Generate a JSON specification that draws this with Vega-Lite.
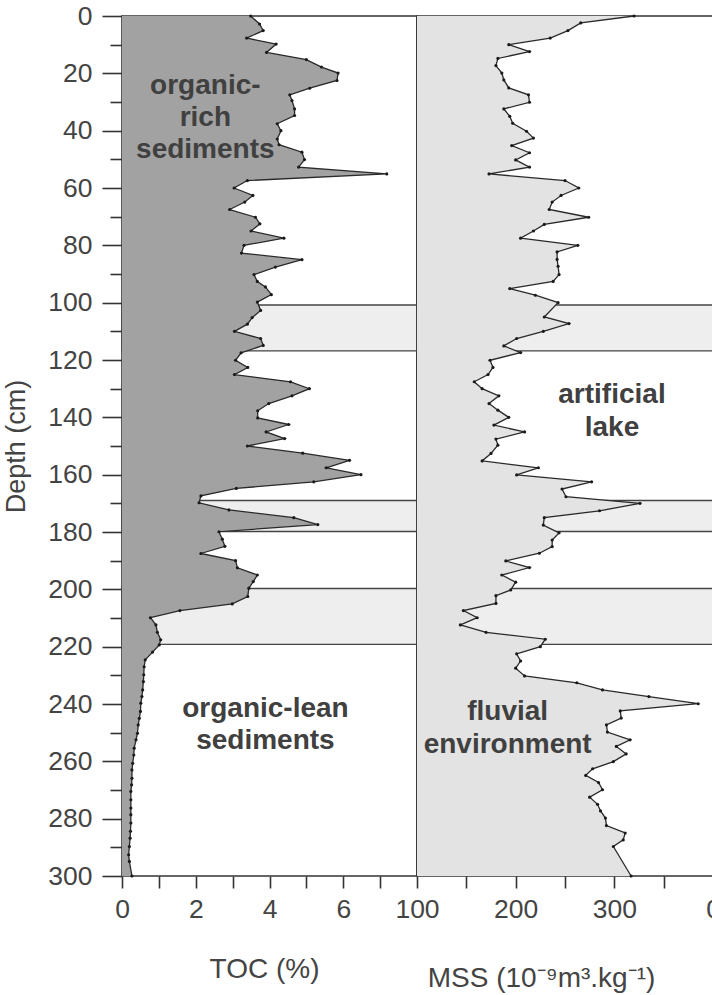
{
  "$schema": "https://vega.github.io/schema/vega-lite/v6.json",
  "padding": {"left": 1, "top": 2, "right": 0, "bottom": 0},
  "background": "white",
  "spacing": 0,
  "bounds": "flush",
  "config": {
    "font": "Liberation Sans",
    "view": {"stroke": "#333333", "strokeWidth": 1.6},
    "axis": {
      "domain": false,
      "grid": false,
      "tickColor": "#333333",
      "tickWidth": 1.6,
      "labelFont": "Liberation Sans",
      "labelFontSize": 26.5,
      "labelColor": "#444444",
      "labelFlush": false,
      "labelOverlap": false,
      "titleFont": "Liberation Sans",
      "titleFontWeight": "normal",
      "titleColor": "#444444",
      "titleFontSize": 28
    }
  },
  "datasets": {
    "toc": [
      {"depth": 0, "toc": 3.49}, {"depth": 2.8, "toc": 3.73}, {"depth": 5.1, "toc": 3.83}, {"depth": 7.7, "toc": 3.38},
      {"depth": 9.8, "toc": 4.18}, {"depth": 12.7, "toc": 3.92}, {"depth": 15.2, "toc": 5.0}, {"depth": 17.8, "toc": 5.41},
      {"depth": 19.9, "toc": 5.86}, {"depth": 22.5, "toc": 5.83}, {"depth": 25.2, "toc": 5.09}, {"depth": 27.5, "toc": 4.55},
      {"depth": 29.5, "toc": 4.61}, {"depth": 32.4, "toc": 4.68}, {"depth": 34.7, "toc": 4.68}, {"depth": 37.6, "toc": 4.21},
      {"depth": 40.0, "toc": 4.31}, {"depth": 42.9, "toc": 4.21}, {"depth": 44.9, "toc": 4.26}, {"depth": 47.5, "toc": 4.88},
      {"depth": 50.1, "toc": 4.95}, {"depth": 52.7, "toc": 4.79}, {"depth": 55.1, "toc": 7.18}, {"depth": 57.4, "toc": 3.40},
      {"depth": 60.0, "toc": 3.04}, {"depth": 62.6, "toc": 3.55}, {"depth": 64.9, "toc": 3.33}, {"depth": 67.5, "toc": 2.92},
      {"depth": 70.2, "toc": 3.62}, {"depth": 72.5, "toc": 3.74}, {"depth": 75.0, "toc": 3.50}, {"depth": 77.5, "toc": 4.39},
      {"depth": 80.0, "toc": 3.31}, {"depth": 82.7, "toc": 3.24}, {"depth": 85.0, "toc": 4.88}, {"depth": 87.6, "toc": 4.16},
      {"depth": 90.2, "toc": 3.58}, {"depth": 92.6, "toc": 3.67}, {"depth": 94.5, "toc": 3.89}, {"depth": 97.2, "toc": 4.05},
      {"depth": 99.8, "toc": 3.67}, {"depth": 102.7, "toc": 3.76}, {"depth": 105.2, "toc": 3.53}, {"depth": 107.5, "toc": 3.40},
      {"depth": 110.0, "toc": 3.05}, {"depth": 112.5, "toc": 3.76}, {"depth": 114.9, "toc": 3.83}, {"depth": 117.5, "toc": 3.23},
      {"depth": 120.1, "toc": 3.08}, {"depth": 122.6, "toc": 3.41}, {"depth": 125.1, "toc": 3.05}, {"depth": 127.6, "toc": 4.57},
      {"depth": 130.0, "toc": 5.08}, {"depth": 132.5, "toc": 4.61}, {"depth": 135.2, "toc": 3.98}, {"depth": 137.7, "toc": 3.68},
      {"depth": 140.2, "toc": 3.68}, {"depth": 142.5, "toc": 4.52}, {"depth": 145.1, "toc": 3.91}, {"depth": 147.4, "toc": 4.41},
      {"depth": 150.0, "toc": 3.40}, {"depth": 152.5, "toc": 4.90}, {"depth": 155.0, "toc": 6.17}, {"depth": 157.6, "toc": 5.54},
      {"depth": 160.0, "toc": 6.48}, {"depth": 162.5, "toc": 5.20}, {"depth": 164.8, "toc": 3.10}, {"depth": 167.4, "toc": 2.14},
      {"depth": 169.8, "toc": 2.09}, {"depth": 172.3, "toc": 2.90}, {"depth": 175.0, "toc": 4.66}, {"depth": 177.4, "toc": 5.31},
      {"depth": 179.9, "toc": 2.63}, {"depth": 182.5, "toc": 2.72}, {"depth": 185.0, "toc": 2.79}, {"depth": 187.5, "toc": 2.14},
      {"depth": 190.0, "toc": 3.08}, {"depth": 192.5, "toc": 3.13}, {"depth": 195.0, "toc": 3.67}, {"depth": 197.3, "toc": 3.56},
      {"depth": 199.6, "toc": 3.44}, {"depth": 202.5, "toc": 3.41}, {"depth": 205.1, "toc": 2.99}, {"depth": 207.4, "toc": 1.57},
      {"depth": 209.9, "toc": 0.77}, {"depth": 212.4, "toc": 0.92}, {"depth": 215.0, "toc": 0.96}, {"depth": 217.6, "toc": 1.05},
      {"depth": 219.4, "toc": 1.01}, {"depth": 221.9, "toc": 0.83}, {"depth": 224.6, "toc": 0.63}, {"depth": 227.0, "toc": 0.60},
      {"depth": 229.8, "toc": 0.59}, {"depth": 232.2, "toc": 0.58}, {"depth": 235.1, "toc": 0.56}, {"depth": 237.4, "toc": 0.54},
      {"depth": 239.7, "toc": 0.51}, {"depth": 242.6, "toc": 0.50}, {"depth": 245.0, "toc": 0.47}, {"depth": 247.3, "toc": 0.44},
      {"depth": 250.2, "toc": 0.42}, {"depth": 252.5, "toc": 0.38}, {"depth": 255.4, "toc": 0.33}, {"depth": 257.8, "toc": 0.32},
      {"depth": 260.7, "toc": 0.29}, {"depth": 263.0, "toc": 0.27}, {"depth": 265.9, "toc": 0.27}, {"depth": 268.2, "toc": 0.26},
      {"depth": 270.5, "toc": 0.24}, {"depth": 273.4, "toc": 0.24}, {"depth": 276.3, "toc": 0.24}, {"depth": 278.6, "toc": 0.24},
      {"depth": 281.5, "toc": 0.24}, {"depth": 284.4, "toc": 0.23}, {"depth": 286.8, "toc": 0.22}, {"depth": 289.7, "toc": 0.20},
      {"depth": 292.6, "toc": 0.18}, {"depth": 294.9, "toc": 0.20}, {"depth": 300.0, "toc": 0.27}
    ],
    "mss": [
      {"depth": 0, "mss": 320}, {"depth": 2.4, "mss": 266}, {"depth": 5.1, "mss": 253}, {"depth": 7.7, "mss": 235},
      {"depth": 10.0, "mss": 193}, {"depth": 12.4, "mss": 214}, {"depth": 14.8, "mss": 182}, {"depth": 17.3, "mss": 180},
      {"depth": 19.9, "mss": 186}, {"depth": 22.3, "mss": 188}, {"depth": 25.1, "mss": 193}, {"depth": 27.5, "mss": 213},
      {"depth": 30.1, "mss": 214}, {"depth": 32.4, "mss": 188}, {"depth": 35.0, "mss": 194}, {"depth": 37.4, "mss": 197},
      {"depth": 40.2, "mss": 211}, {"depth": 42.6, "mss": 218}, {"depth": 45.2, "mss": 196}, {"depth": 47.7, "mss": 214},
      {"depth": 50.2, "mss": 200}, {"depth": 52.7, "mss": 214}, {"depth": 55.1, "mss": 173}, {"depth": 57.4, "mss": 250},
      {"depth": 60.0, "mss": 264}, {"depth": 62.6, "mss": 246}, {"depth": 64.9, "mss": 237}, {"depth": 67.5, "mss": 234},
      {"depth": 70.2, "mss": 274}, {"depth": 72.7, "mss": 229}, {"depth": 75.0, "mss": 218}, {"depth": 77.5, "mss": 205},
      {"depth": 80.0, "mss": 263}, {"depth": 82.3, "mss": 242}, {"depth": 84.9, "mss": 242}, {"depth": 87.3, "mss": 243},
      {"depth": 90.2, "mss": 244}, {"depth": 92.6, "mss": 238}, {"depth": 95.1, "mss": 194}, {"depth": 97.4, "mss": 220},
      {"depth": 100.0, "mss": 243}, {"depth": 105.0, "mss": 229}, {"depth": 107.3, "mss": 254}, {"depth": 110.0, "mss": 228},
      {"depth": 112.5, "mss": 201}, {"depth": 115.1, "mss": 188}, {"depth": 117.4, "mss": 205}, {"depth": 120.1, "mss": 174},
      {"depth": 122.6, "mss": 177}, {"depth": 125.1, "mss": 172}, {"depth": 127.6, "mss": 158}, {"depth": 130.0, "mss": 166},
      {"depth": 132.5, "mss": 183}, {"depth": 135.2, "mss": 173}, {"depth": 137.5, "mss": 182}, {"depth": 140.0, "mss": 193},
      {"depth": 142.7, "mss": 178}, {"depth": 145.1, "mss": 209}, {"depth": 147.6, "mss": 180}, {"depth": 149.7, "mss": 182},
      {"depth": 152.6, "mss": 175}, {"depth": 155.2, "mss": 166}, {"depth": 157.6, "mss": 223}, {"depth": 160.1, "mss": 201},
      {"depth": 162.5, "mss": 277}, {"depth": 165.0, "mss": 247}, {"depth": 167.7, "mss": 251}, {"depth": 170.0, "mss": 326},
      {"depth": 172.6, "mss": 285}, {"depth": 175.0, "mss": 229}, {"depth": 177.6, "mss": 228}, {"depth": 180.3, "mss": 244},
      {"depth": 182.8, "mss": 237}, {"depth": 185.1, "mss": 237}, {"depth": 187.4, "mss": 224}, {"depth": 190.1, "mss": 190},
      {"depth": 192.4, "mss": 214}, {"depth": 195.0, "mss": 186}, {"depth": 197.5, "mss": 200}, {"depth": 200.2, "mss": 195},
      {"depth": 202.2, "mss": 180}, {"depth": 204.9, "mss": 180}, {"depth": 207.4, "mss": 147}, {"depth": 209.9, "mss": 161},
      {"depth": 212.4, "mss": 144}, {"depth": 215.0, "mss": 170}, {"depth": 217.4, "mss": 230}, {"depth": 220.0, "mss": 225},
      {"depth": 222.5, "mss": 201}, {"depth": 225.0, "mss": 205}, {"depth": 227.5, "mss": 200}, {"depth": 230.2, "mss": 209},
      {"depth": 232.6, "mss": 262}, {"depth": 235.1, "mss": 288}, {"depth": 237.4, "mss": 335}, {"depth": 239.9, "mss": 385},
      {"depth": 242.4, "mss": 306}, {"depth": 244.9, "mss": 307}, {"depth": 247.3, "mss": 292}, {"depth": 249.8, "mss": 293},
      {"depth": 252.5, "mss": 316}, {"depth": 254.8, "mss": 302}, {"depth": 257.4, "mss": 312}, {"depth": 260.1, "mss": 299},
      {"depth": 262.6, "mss": 278}, {"depth": 264.9, "mss": 271}, {"depth": 267.4, "mss": 284}, {"depth": 269.9, "mss": 288},
      {"depth": 272.5, "mss": 275}, {"depth": 275.0, "mss": 283}, {"depth": 277.3, "mss": 286}, {"depth": 279.8, "mss": 291},
      {"depth": 282.4, "mss": 292}, {"depth": 285.0, "mss": 311}, {"depth": 287.4, "mss": 309}, {"depth": 289.7, "mss": 299},
      {"depth": 300.0, "mss": 317}
    ],
    "bands": [
      {"top": 100.8, "bottom": 116.8},
      {"top": 169.0, "bottom": 179.8},
      {"top": 199.7, "bottom": 219.2}
    ],
    "notes_toc": [
      {"depth": 24.5, "toc": 2.26, "label": "organic-\nrich\nsediments"},
      {"depth": 241.8, "toc": 3.89, "label": "organic-lean\nsediments"}
    ],
    "notes_mss": [
      {"depth": 132.3, "mss": 297.6, "label": "artificial\nlake"},
      {"depth": 242.9, "mss": 191.9, "label": "fluvial\nenvironment"}
    ]
  },
  "hconcat": [
    {
      "width": 295,
      "height": 860,
      "resolve": {"axis": {"y": "independent", "x": "independent"}},
      "layer": [
        {
          "data": {"name": "bands"},
          "mark": {"type": "rect", "fill": "#eeeeee", "stroke": "#444444", "strokeWidth": 1.4},
          "encoding": {
            "y": {"field": "top", "type": "quantitative", "scale": {"domain": [0, 300], "reverse": true, "nice": false, "zero": false}, "axis": null},
            "y2": {"field": "bottom"},
            "x": {"datum": 0, "type": "quantitative", "scale": {"domain": [0, 8], "nice": false}, "axis": null},
            "x2": {"datum": 8}
          }
        },
        {
          "data": {"name": "toc"},
          "mark": {"type": "area", "orient": "horizontal", "color": "#a2a2a2"},
          "encoding": {
            "y": {
              "field": "depth", "type": "quantitative",
              "axis": {
                "orient": "left",
                "title": null,
                "labels": false,
                "values": [10, 30, 50, 70, 90, 110, 130, 150, 170, 190, 210, 230, 250, 270, 290],
                "tickSize": 12
              }
            },
            "x": {"field": "toc", "type": "quantitative", "stack": null, "axis": null}
          }
        },
        {
          "data": {"name": "toc"},
          "mark": {"type": "line", "color": "#2a2a2a", "strokeWidth": 1.3, "point": {"filled": true, "size": 10, "color": "#1a1a1a"}},
          "encoding": {
            "y": {
              "field": "depth", "type": "quantitative",
              "axis": {
                "orient": "left",
                "title": "Depth (cm)",
                "titleFontSize": 27,
                "titlePadding": 17,
                "values": [0, 20, 40, 60, 80, 100, 120, 140, 160, 180, 200, 220, 240, 260, 280, 300],
                "tickSize": 20,
                "labelPadding": 10
              }
            },
            "x": {
              "field": "toc", "type": "quantitative",
              "axis": {
                "orient": "bottom",
                "title": "TOC (%)",
                "values": [0, 1, 2, 3, 4, 5, 6, 7],
                "labelExpr": "datum.value % 2 === 0 ? datum.label : ''",
                "tickSize": 12,
                "labelPadding": 8,
                "titleX": 142,
                "titleY": 101,
                "titleBaseline": "alphabetic",
                "titleAlign": "center"
              }
            },
            "order": {"field": "depth", "type": "quantitative"}
          }
        },
        {
          "data": {"name": "notes_toc"},
          "mark": {"type": "text", "font": "Liberation Sans", "fontWeight": "bold", "fontSize": 28, "color": "#404040", "lineBreak": "\n", "lineHeight": 32, "align": "center", "baseline": "middle"},
          "encoding": {
            "y": {"field": "depth", "type": "quantitative", "axis": null},
            "x": {"field": "toc", "type": "quantitative", "axis": null},
            "text": {"field": "label"}
          }
        }
      ]
    },
    {
      "width": 296,
      "height": 860,
      "resolve": {"axis": {"x": "independent"}},
      "layer": [
        {
          "data": {"name": "bands"},
          "mark": {"type": "rect", "fill": "#eeeeee", "stroke": "#444444", "strokeWidth": 1.4},
          "encoding": {
            "y": {"field": "top", "type": "quantitative", "scale": {"domain": [0, 300], "reverse": true, "nice": false, "zero": false}, "axis": null},
            "y2": {"field": "bottom"},
            "x": {"datum": 100, "type": "quantitative", "scale": {"domain": [100, 400], "nice": false, "zero": false}, "axis": null},
            "x2": {"datum": 400}
          }
        },
        {
          "data": {"name": "mss"},
          "mark": {"type": "area", "orient": "horizontal", "color": "#e3e3e3"},
          "encoding": {
            "y": {"field": "depth", "type": "quantitative", "axis": null},
            "x": {"field": "mss", "type": "quantitative", "stack": null, "axis": null},
            "x2": {"datum": 100}
          }
        },
        {
          "data": {"name": "mss"},
          "mark": {"type": "line", "color": "#2a2a2a", "strokeWidth": 1.3, "point": {"filled": true, "size": 10, "color": "#1a1a1a"}},
          "encoding": {
            "y": {"field": "depth", "type": "quantitative", "axis": null},
            "x": {
              "field": "mss", "type": "quantitative",
              "axis": {
                "orient": "bottom",
                "title": "MSS (10⁻⁹m³.kg⁻¹)",
                "values": [100, 150, 200, 250, 300, 350, 400],
                "labelExpr": "datum.value === 400 ? '0' : (datum.value % 100 === 0 ? datum.label : '')",
                "tickSize": 12,
                "labelPadding": 8,
                "titleX": 124,
                "titleY": 110,
                "titleBaseline": "alphabetic",
                "titleAlign": "center"
              }
            },
            "order": {"field": "depth", "type": "quantitative"}
          }
        },
        {
          "data": {"name": "notes_mss"},
          "mark": {"type": "text", "font": "Liberation Sans", "fontWeight": "bold", "fontSize": 28, "color": "#404040", "lineBreak": "\n", "lineHeight": 33, "align": "center", "baseline": "middle"},
          "encoding": {
            "y": {"field": "depth", "type": "quantitative", "axis": null},
            "x": {"field": "mss", "type": "quantitative", "axis": null},
            "text": {"field": "label"}
          }
        }
      ]
    }
  ]
}
